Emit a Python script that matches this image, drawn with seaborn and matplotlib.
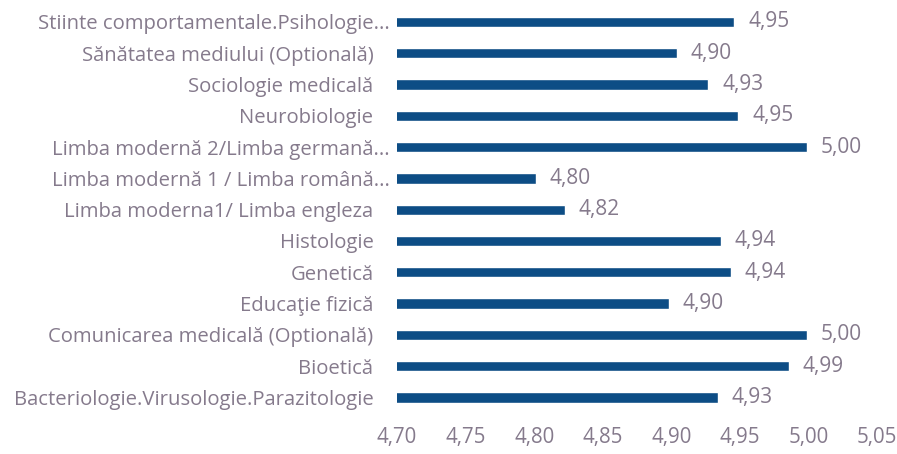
import matplotlib
matplotlib.use("Agg")
import matplotlib.pyplot as plt
import matplotlib.transforms as mtrans
import seaborn as sns
import pandas as pd

categories = [
    "Stiinte comportamentale.Psihologie...",
    "Sănătatea mediului (Optională)",
    "Sociologie medicală",
    "Neurobiologie",
    "Limba modernă 2/Limba germană...",
    "Limba modernă 1 / Limba română...",
    "Limba moderna1/ Limba engleza",
    "Histologie",
    "Genetică",
    "Educaţie fizică",
    "Comunicarea medicală (Optională)",
    "Bioetică",
    "Bacteriologie.Virusologie.Parazitologie",
]
values = [4.946, 4.904, 4.927, 4.949, 4.999, 4.801, 4.8225,
          4.936, 4.9435, 4.898, 4.999, 4.986, 4.934]
xticks = [4.70, 4.75, 4.80, 4.85, 4.90, 4.95, 5.00, 5.05]

df = pd.DataFrame({"cat": categories, "val": values})

sns.set_theme(style="white")
plt.rcParams["font.family"] = ["Open Sans", "DejaVu Sans"]

text_color = "#857a8c"
bar_color = "#0d4d85"

fig = plt.figure(figsize=(8.97, 4.54), dpi=100)
ax = fig.add_axes([0.4426, 0.0903, 0.9777 - 0.4426, 0.986 - 0.0903])

sns.barplot(data=df, x="val", y="cat", orient="h", color=bar_color,
            width=0.33, saturation=1, ax=ax)

ax.set_xlim(4.70, 5.05)
ax.set_xticks(xticks)
ax.set_xticklabels([f"{t:.2f}".replace(".", ",") for t in xticks],
                   color=text_color, fontsize=14.8)
ax.tick_params(axis="y", labelsize=14.6, labelcolor=text_color, length=0, pad=17)
ax.tick_params(axis="x", length=0, pad=10)
ax.set_xlabel("")
ax.set_ylabel("")
for s in ax.spines.values():
    s.set_visible(False)
ax.grid(False)

# ellipsis-truncated labels overhang to the right, as in the original
off = mtrans.ScaledTranslation(16 / 100, 0, fig.dpi_scale_trans)
for lab in ax.get_yticklabels():
    if lab.get_text().endswith("..."):
        lab.set_transform(lab.get_transform() + off)

for i, v in enumerate(values):
    ax.text(v + 0.010, i, f"{v:.2f}".replace(".", ","), va="center", ha="left",
            color=text_color, fontsize=15)

fig.savefig("out.png", dpi=100)
